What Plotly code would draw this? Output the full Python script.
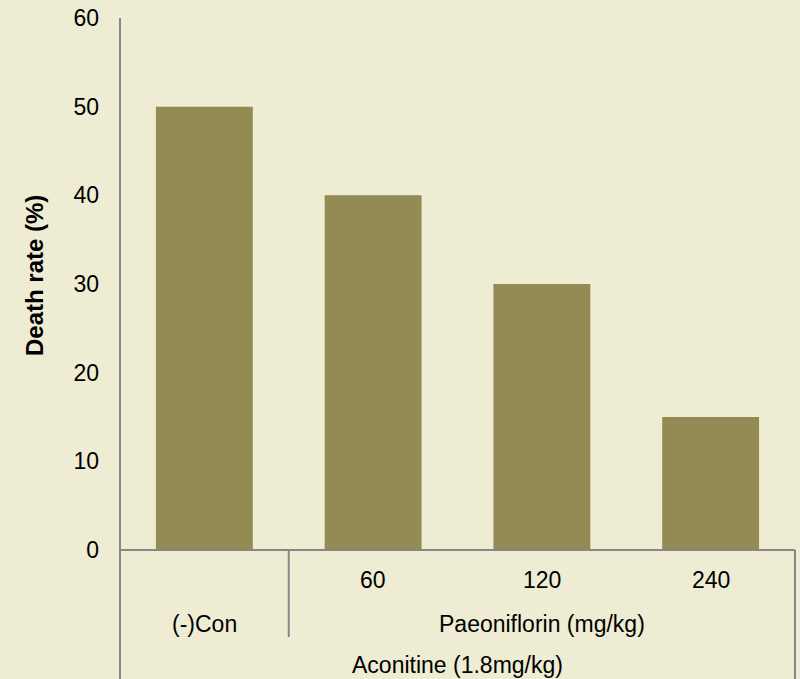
import plotly.graph_objects as go

# Death rate per treatment group
categories = ["(-)Con", "60", "120", "240"]
death_rate = [50, 40, 30, 15]
dose_group = "Paeoniflorin (mg/kg)"
model_group = "Aconitine (1.8mg/kg)"
y_ticks = [0, 10, 20, 30, 40, 50, 60]

W, H = 800, 679
M_L, M_R, M_T, M_B = 120, 5, 18, 129
plot_h = H - M_T - M_B

FONT = "Liberation Sans, Arial, sans-serif"
AXIS = "#878787"
BAR = "#948a54"
BG = "#eeecd2"


def py(pixel_below_axis):
    """Convert a pixel offset below the x axis into paper units."""
    return -pixel_below_axis / plot_h


fig = go.Figure(
    go.Bar(
        x=list(range(len(categories))),
        y=death_rate,
        marker=dict(color=BAR, line=dict(width=0)),
        hoverinfo="skip",
    )
)

label_font = dict(size=23, color="black", family=FONT)
ann = []
# first level: dose labels
for i, c in enumerate(categories[1:], start=1):
    ann.append(dict(x=i, y=py(30), xref="x", yref="paper", text=c, showarrow=False,
                    yanchor="middle", font=label_font))
# second level
ann.append(dict(x=0, y=py(74), xref="x", yref="paper", text=categories[0], showarrow=False,
                yanchor="middle", font=label_font))
ann.append(dict(x=2, y=py(74), xref="x", yref="paper", text=dose_group, showarrow=False,
                yanchor="middle", font=label_font))
# third level
ann.append(dict(x=1.5, y=py(115), xref="x", yref="paper", text=model_group, showarrow=False,
                yanchor="middle", font=label_font))
# y axis title
ann.append(dict(x=0, y=0.5, xref="paper", yref="paper", xshift=-86, yshift=8,
                text="<b>Death rate (%)</b>", textangle=-90, showarrow=False,
                xanchor="center", yanchor="middle",
                font=dict(size=24, color="black", family=FONT)))

line = dict(color=AXIS, width=2)
shapes = [
    # left axis extended through the label rows
    dict(type="line", xref="paper", yref="paper", x0=0, x1=0, y0=1, y1=py(M_B), line=line),
    # baseline
    dict(type="line", xref="paper", yref="paper", x0=0, x1=1, y0=0, y1=0, line=line),
    # right border of the category table
    dict(type="line", xref="paper", yref="paper", x0=1, x1=1, y0=0, y1=py(M_B), line=line),
    # divider between control and dose groups
    dict(type="line", xref="x", yref="paper", x0=0.5, x1=0.5, y0=0, y1=py(87), line=line),
]

fig.update_layout(
    width=W, height=H,
    margin=dict(l=M_L, r=M_R, t=M_T, b=M_B),
    paper_bgcolor=BG, plot_bgcolor=BG,
    bargap=0.426,
    showlegend=False,
    font=dict(family=FONT, size=23, color="black"),
    xaxis=dict(range=[-0.5, 3.5], showticklabels=False, showgrid=False, zeroline=False,
               showline=False, ticks=""),
    yaxis=dict(range=[0, 60], tickvals=y_ticks, showgrid=False, zeroline=False,
               showline=False, ticks="", ticklabelstandoff=20,
               tickfont=label_font),
    annotations=ann,
    shapes=shapes,
)

fig.write_html("out.html")
